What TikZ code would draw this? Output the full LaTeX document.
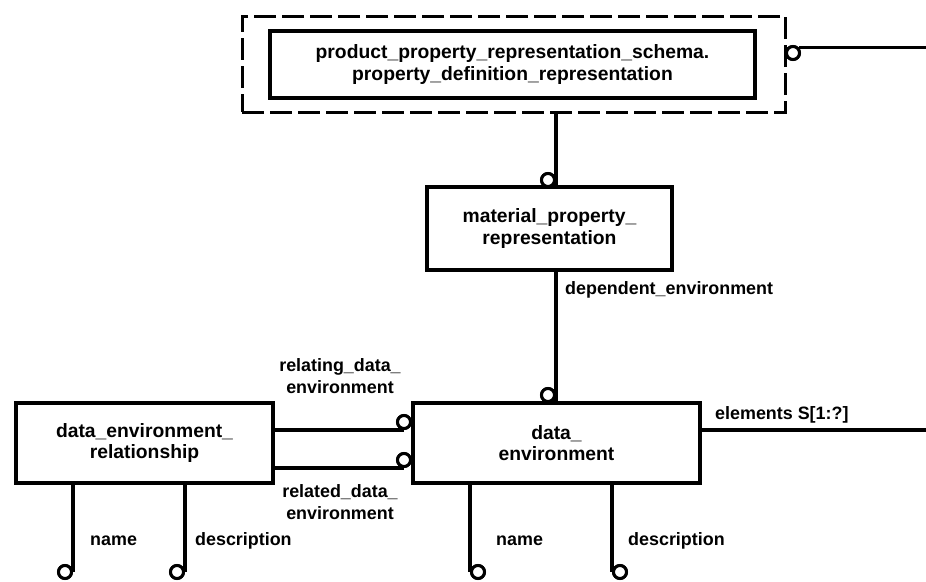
\documentclass[tikz,border=0pt]{standalone}
\usepackage{fontspec}
\setmainfont{Liberation Sans}
\begin{document}
\begin{tikzpicture}[x=1pt,y=-1pt,
  ebox/.style={draw,line width=4pt,inner sep=0pt,align=center,font=\bfseries\fontsize{19.3}{21.5}\selectfont},
  dbox/.style={draw,line width=3pt,dash pattern=on 22pt off 6pt,inner sep=0pt},
  oc/.style={circle,draw,line width=3pt,fill=white,minimum size=13pt,inner sep=0pt},
  conn/.style={line width=4.5pt},
  hconn/.style={line width=3.5pt},
  lbl/.style={inner sep=0pt,align=center,font=\bfseries\fontsize{17.9}{22}\selectfont}]
\useasboundingbox (0,0) rectangle (926,581);
% boxes
\node[dbox,minimum width=543pt,minimum height=96pt] (dash) at (513.5,64) {};
\node[ebox,minimum width=485pt,minimum height=67pt] (pdr) at (512.5,64.5)
  {product\_property\_representation\_schema.\\property\_definition\_representation};
\node[ebox,minimum width=245pt,minimum height=83pt] (mat) at (549.5,228.5)
  {material\_property\_\\representation};
\node[ebox,minimum width=287pt,minimum height=80pt] (de) at (556.5,443)
  {data\_\\environment};
\node[ebox,minimum width=257pt,minimum height=80pt] (rel) at (144.5,443)
  {data\_environment\_\\relationship};
% free ends
\coordinate (r1) at (926,46);
\coordinate (r2) at (926,430);
% circles
\node[oc] (c1) at (793,53) {};
\node[oc] (c2) at (548,180) {};
\node[oc] (c3) at (548,395) {};
\node[oc] (c4) at (404,422) {};
\node[oc] (c5) at (404,460) {};
\node[oc] (c6) at (65,572) {};
\node[oc] (c7) at (177,572) {};
\node[oc] (c8) at (478,572) {};
\node[oc] (c9) at (620,572) {};
% connectors
\draw[hconn] (c1.north east) -- (c1.north east -| r1);
\draw[conn] (c2.east |- dash.south) -- (c2.east |- mat.north);
\draw[conn] (c3.east |- mat.south) -- (c3.east |- de.north);
\draw[hconn] (rel.east |- c4.south) -- (c4.south);
\draw[hconn] (rel.east |- c5.south) -- (c5.south);
\draw[hconn] (de.east |- r2) -- (r2);
\draw[conn] (c6.east |- rel.south) -- (c6.east);
\draw[conn] (c7.east |- rel.south) -- (c7.east);
\draw[conn] (c8.west |- de.south) -- (c8.west);
\draw[conn] (c9.west |- de.south) -- (c9.west);
% redraw circles on top
\foreach \c in {c1,c2,c3,c4,c5,c6,c7,c8,c9}{\draw[line width=3pt,fill=white] (\c) circle (6.5pt);}
% labels
\node[lbl,anchor=west] (l1) at (565,290) {dependent\_environment};
\node[lbl] (l2) at (340,376) {relating\_data\_\\environment};
\node[lbl] (l3) at (340,502) {related\_data\_\\environment};
\node[lbl,anchor=west] (l4) at (715,415) {elements S[1:?]};
\node[lbl,anchor=west] (l5) at (90,541) {name};
\node[lbl,anchor=west] (l6) at (195,541) {description};
\node[lbl,anchor=west] (l7) at (496,541) {name};
\node[lbl,anchor=west] (l8) at (628,541) {description};
\end{tikzpicture}
\end{document}
